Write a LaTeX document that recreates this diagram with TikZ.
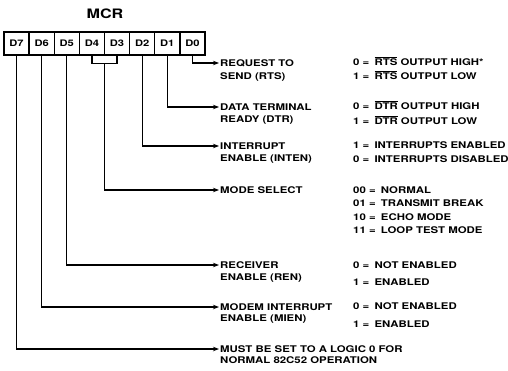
\documentclass[tikz,border=0pt]{standalone}
\usepackage{fontspec}
\setmainfont{TeX Gyre Heros}[FakeStretch=1.24]
\usetikzlibrary{arrows.meta,calc}
\newcommand\ovl[1]{$\overline{\mbox{#1}}$}
\newcommand\eq{=\hspace{2pt} }
\begin{document}
\begin{tikzpicture}[x=1pt,y=-1pt,
  cell/.style={draw, line width=1.3pt, minimum width=25.125pt, minimum height=23pt, inner sep=0pt, font=\bfseries\fontsize{9}{10}\selectfont},
  lbl/.style={anchor=west, inner sep=1pt, text height=6.8pt, text depth=0pt, font=\bfseries\fontsize{9.2}{10}\selectfont},
  title/.style={font=\bfseries\fontsize{13}{14}\selectfont, inner sep=0pt},
  wire/.style={line width=1.2pt},
  conn/.style={line width=1.2pt, -{Stealth[length=6pt,width=4.5pt]}}]
\useasboundingbox (0,0) rectangle (508,370);
\node[title] (mcr) at (105,14) {MCR};
% register cells
\node[cell] (d7) at (16.56,43.5) {D7};
\node[cell] (d6) at (41.69,43.5) {D6};
\node[cell] (d5) at (66.81,43.5) {D5};
\node[cell] (d4) at (91.94,43.5) {D4};
\node[cell] (d3) at (117.06,43.5) {D3};
\node[cell] (d2) at (142.19,43.5) {D2};
\node[cell] (d1) at (167.31,43.5) {D1};
\node[cell] (d0) at (192.44,43.5) {D0};
% first column labels
\node[lbl] (rtsa) at (219,63) {REQUEST TO};
\node[lbl] (rtsb) at (219,76) {SEND (RTS)};
\node[lbl] (dtra) at (219,107) {DATA TERMINAL};
\node[lbl] (dtrb) at (219,119) {READY (DTR)};
\node[lbl] (inta) at (219,146) {INTERRUPT};
\node[lbl] (intb) at (219,158) {ENABLE (INTEN)};
\node[lbl] (mode) at (219,190) {MODE SELECT};
\node[lbl] (rena) at (219,265) {RECEIVER};
\node[lbl] (renb) at (219,277) {ENABLE (REN)};
\node[lbl] (miea) at (219,307) {MODEM INTERRUPT};
\node[lbl] (mieb) at (219,318) {ENABLE (MIEN)};
\node[lbl] (musta) at (219,349) {MUST BE SET TO A LOGIC 0 FOR};
\node[lbl] (mustb) at (219,360) {NORMAL 82C52 OPERATION};
% second column
\node[lbl] (v0a) at (352,62) {0 \eq\ovl{RTS} OUTPUT HIGH*};
\node[lbl] (v0b) at (352,76) {1 \eq\ovl{RTS} OUTPUT LOW};
\node[lbl] (v1a) at (352,106) {0 \eq\ovl{DTR} OUTPUT HIGH};
\node[lbl] (v1b) at (352,121) {1 \eq\ovl{DTR} OUTPUT LOW};
\node[lbl] (v2a) at (352,145) {1 \eq INTERRUPTS ENABLED};
\node[lbl] (v2b) at (352,159) {0 \eq INTERRUPTS DISABLED};
\node[lbl] (v3a) at (352,190) {00 \eq NORMAL};
\node[lbl] (v3b) at (352,203) {01 \eq TRANSMIT BREAK};
\node[lbl] (v3c) at (352,217) {10 \eq ECHO MODE};
\node[lbl] (v3d) at (352,230) {11 \eq LOOP TEST MODE};
\node[lbl] (v5a) at (352,265) {0 \eq NOT ENABLED};
\node[lbl] (v5b) at (352,282) {1 \eq ENABLED};
\node[lbl] (v6a) at (352,306) {0 \eq NOT ENABLED};
\node[lbl] (v6b) at (352,324) {1 \eq ENABLED};
% connectors
\draw[conn] (d0.south) |- (rtsa.west);
\draw[conn] (d1.south) |- (dtra.west);
\draw[conn] (d2.south) |- (inta.west);
\coordinate (br) at ($(d4.south)!0.5!(d3.south)+(0,8)$);
\draw[wire] (d4.south) |- (br) -| (d3.south);
\draw[conn] (br) |- (mode.west);
\draw[conn] (d5.south) |- (rena.west);
\draw[conn] (d6.south) |- (miea.west);
\draw[conn] (d7.south) |- (musta.west);
\end{tikzpicture}
\end{document}
